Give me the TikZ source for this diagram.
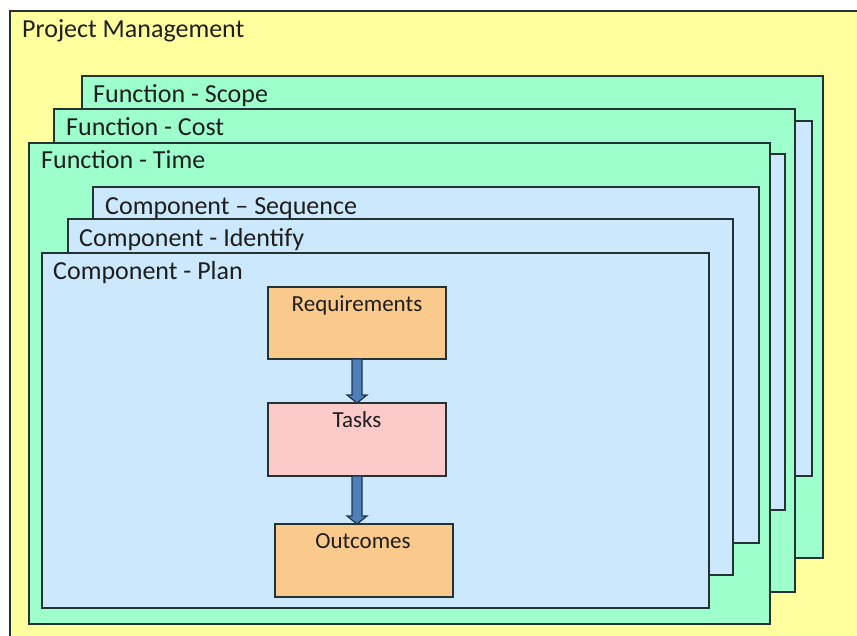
\documentclass[tikz,border=0pt]{standalone}
\usepackage{fontspec}
\setmainfont{Carlito}
\usetikzlibrary{calc}

\definecolor{pmyellow}{HTML}{FFFF9E}
\definecolor{fngreen}{HTML}{9CFFCC}
\definecolor{cpblue}{HTML}{CCE8FC}
\definecolor{boxorange}{HTML}{FAC98C}
\definecolor{boxpink}{HTML}{FDCACA}
\definecolor{edgedark}{HTML}{233333}
\definecolor{arrowblue}{HTML}{4F7FB8}
\definecolor{arrowedge}{HTML}{1F3550}
\definecolor{labeltext}{HTML}{1E1E1E}

\tikzset{
  panel/.style={draw=edgedark, line width=1.8pt, rectangle, anchor=north west,
                inner sep=0pt, outer sep=0pt},
  fnpanel/.style={panel, fill=fngreen},
  cppanel/.style={panel, fill=cpblue},
  stepbox/.style={draw=edgedark, line width=1.6pt, rectangle, anchor=north west,
                  inner sep=0pt, outer sep=0pt},
  title/.style={anchor=base west, inner sep=0pt, text=labeltext,
                font=\fontsize{26}{30}\selectfont},
  boxtext/.style={anchor=base, inner sep=0pt, text=labeltext,
                  font=\fontsize{23}{27}\selectfont},
  flowarrow/.style={fill=arrowblue, draw=arrowedge, line width=1.2pt, line join=miter},
}

% block arrow straight down from the bottom of one box to the top of the next
\newcommand{\blockarrow}[2]{%
  \draw[flowarrow]
    ($(#1.south)+(-5,0)$) -- ($(#1.south |- #2.north)+(-5,-8)$)
    -- ($(#1.south |- #2.north)+(-10,-8)$) -- (#1.south |- #2.north)
    -- ($(#1.south |- #2.north)+(10,-8)$) -- ($(#1.south |- #2.north)+(5,-8)$)
    -- ($(#1.south)+(5,0)$) -- cycle;}

\begin{document}
\begin{tikzpicture}[x=1pt, y=-1pt]
\useasboundingbox (0,0) rectangle (857,635);
\clip (0,0) rectangle (857,635);

% outer project frame
\node[panel, fill=pmyellow, minimum width=860pt, minimum height=640pt] (pm) at (10,11) {};
\node[title] (pmlabel) at (22,37) {Project Management};

% function layers, back to front
\node[fnpanel, minimum width=741pt, minimum height=482pt] (scope) at (82,76) {};
\node[title] (scopelabel) at (93,102) {Function - Scope};
\node[cppanel, minimum width=700pt, minimum height=355pt] (scopecomp) at (112,121) {};

\node[fnpanel, minimum width=741pt, minimum height=483pt] (cost) at (54,109) {};
\node[title] (costlabel) at (66,135) {Function - Cost};
\node[cppanel, minimum width=700pt, minimum height=356pt] (costcomp) at (85,154) {};

\node[fnpanel, minimum width=741pt, minimum height=481pt] (time) at (29,143) {};
\node[title] (timelabel) at (41,168) {Function - Time};

% component layers, back to front
\node[cppanel, minimum width=666pt, minimum height=356pt] (sequence) at (93,187) {};
\node[title] (seqlabel) at (105,214) {Component -- Sequence};

\node[cppanel, minimum width=665pt, minimum height=356pt] (identify) at (68,219) {};
\node[title] (idlabel) at (79,246) {Component - Identify};

\node[cppanel, minimum width=667pt, minimum height=355pt] (plan) at (42,253) {};
\node[title] (planlabel) at (53,279) {Component - Plan};

% flow inside the plan component
\node[stepbox, fill=boxorange, minimum width=178pt, minimum height=72pt] (req) at (268,287) {};
\node[boxtext] (reqlabel) at (357,311) {Requirements};

\node[stepbox, fill=boxpink, minimum width=178pt, minimum height=73pt] (tasks) at (268,403) {};
\node[boxtext] (taskslabel) at (357,427) {Tasks};

\node[stepbox, fill=boxorange, minimum width=178pt, minimum height=73pt] (out) at (275,524) {};
\node[boxtext] (outlabel) at (363,548) {Outcomes};

\blockarrow{req}{tasks}
\blockarrow{tasks}{out}
\end{tikzpicture}
\end{document}
